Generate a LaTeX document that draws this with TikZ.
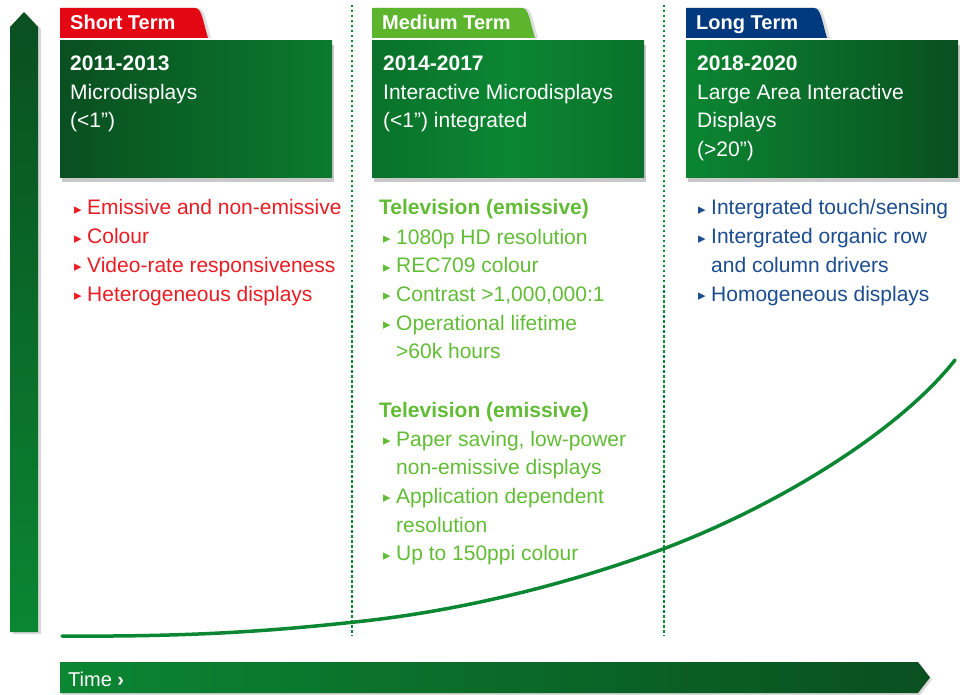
\documentclass[tikz,border=0pt]{standalone}
\usepackage{fontspec}
\setmainfont{Liberation Sans}
\newfontfamily\symfont{DejaVu Sans}
\usetikzlibrary{shadows}

\definecolor{dkgreen}{HTML}{0A4F20}
\definecolor{midgreen}{HTML}{0B8632}
\definecolor{boxgreen}{HTML}{0B7B2E}
\definecolor{redtab}{HTML}{E30613}
\definecolor{redtext}{HTML}{EA1C24}
\definecolor{lgtab}{HTML}{5DB52E}
\definecolor{lgtext}{HTML}{62BC36}
\definecolor{bltab}{HTML}{00397D}
\definecolor{bltext}{HTML}{1C4D8E}

\newcommand{\bul}{\makebox[12pt][l]{\hspace*{-1pt}\raisebox{0.5pt}{\symfont\fontsize{15}{15}\selectfont ▸}}}
\newcommand{\ind}{\hspace*{12pt}}

\tikzset{
  txt/.style={anchor=base west, inner sep=0pt, font=\fontsize{21}{21}\selectfont},
  boxtext/.style={txt, text=white},
  tablabel/.style={anchor=base west, inner sep=0pt, text=white, font=\bfseries\fontsize{20}{20}\selectfont},
  box/.style={anchor=north west, minimum width=272pt, minimum height=137pt, inner sep=0pt,
    drop shadow={shadow xshift=2pt, shadow yshift=-5pt, opacity=0.35, fill=black!60}},
  box1/.style={box, left color=dkgreen, right color=boxgreen},
  box2/.style={box, left color=boxgreen!92!black, right color=boxgreen!92!black, middle color=midgreen},
  box3/.style={box, left color=midgreen, right color=dkgreen},
  sep/.style={midgreen, line width=1.6pt, dash pattern=on 2.5pt off 2.5pt},
  curve/.style={midgreen, line width=3.5pt, line cap=round},
}

\begin{document}
\begin{tikzpicture}[x=1pt,y=-1pt]
\useasboundingbox[fill=white] (0,0) rectangle (964,695);

% dotted column separators
\foreach \x in {352,664}
  \draw[sep] (\x,5) -- (\x,636);

% vertical axis
\path[top color=dkgreen, bottom color=midgreen, drop shadow={shadow xshift=3pt, shadow yshift=-2pt, opacity=0.3}]
  (10,632) -- (10,27) -- (24,12) -- (38,27) -- (38,632) -- cycle;

% time axis
\path[left color=midgreen, right color=dkgreen, drop shadow={shadow xshift=2pt, shadow yshift=-2pt, opacity=0.3}]
  (60,662) -- (918,662) -- (930,677.5) -- (918,693) -- (60,693) -- cycle;
\node[txt, text=white, font=\fontsize{20}{20}\selectfont] (time) at (68,686) {Time \textbf{›}};

% growth curve
\draw[curve] (62,636) .. controls (200,637) and (280,630) .. (355,622)
  .. controls (470,610) and (580,580) .. (663,549)
  .. controls (780,505) and (900,430) .. (955,360);

% tabs and boxes
\foreach \i/\x/\r/\c/\t in {1/60/195/redtab/Short Term, 2/372/522/lgtab/Medium Term, 3/686/814/bltab/Long Term} {
  \path[fill=\c, drop shadow={shadow xshift=3pt, shadow yshift=0pt, opacity=0.25}]
    (\x,38) -- (\x,8) -- (\r,8) .. controls (\r+7,8) and (\r+8,22) .. (\r+13,38) -- cycle;
  \node[tablabel] (tab\i) at (\x+10,30) {\t};
  \node[box\i] (box\i) at (\x,40) {};
}

% box texts
\foreach \t [count=\j] in {\textbf{2011-2013}, Microdisplays, (<1”)}
  \node[boxtext] (a\j) at (70,{70.5+28.7*(\j-1)}) {\t};
\foreach \t [count=\j] in {\textbf{2014-2017}, Interactive Microdisplays, (<1”) integrated}
  \node[boxtext] (b\j) at (383,{70.5+28.7*(\j-1)}) {\t};
\foreach \t [count=\j] in {\textbf{2018-2020}, Large Area Interactive, Displays, (>20”)}
  \node[boxtext] (c\j) at (697,{70.5+28.7*(\j-1)}) {\t};

% short term list
\foreach \t [count=\j] in {\bul Emissive and non-emissive, \bul Colour, \bul Video-rate responsiveness, \bul Heterogeneous displays}
  \node[txt, text=redtext] (s\j) at (75,{215+28.7*(\j-1)}) {\t};

% medium term list
\node[txt, text=lgtext, font=\bfseries\fontsize{21}{21}\selectfont] (mh1) at (379,215) {Television (emissive)};
\foreach \t [count=\j] in {\bul 1080p HD resolution, \bul REC709 colour, {\bul Contrast >1,000,000:1}, \bul Operational lifetime, \ind >60k hours}
  \node[txt, text=lgtext] (m\j) at (384,{244+28.7*(\j-1)}) {\t};
\node[txt, text=lgtext, font=\bfseries\fontsize{21}{21}\selectfont] (mh2) at (379,417) {Television (emissive)};
\foreach \t [count=\j] in {{\bul Paper saving, low-power}, \ind non-emissive displays, \bul Application dependent, \ind resolution, \bul Up to 150ppi colour}
  \node[txt, text=lgtext] (n\j) at (384,{446+28.7*(\j-1)}) {\t};

% long term list
\foreach \t [count=\j] in {\bul Intergrated touch/sensing, \bul Intergrated organic row, \ind and column drivers, \bul Homogeneous displays}
  \node[txt, text=bltext] (l\j) at (699,{215+28.7*(\j-1)}) {\t};
\end{tikzpicture}
\end{document}
